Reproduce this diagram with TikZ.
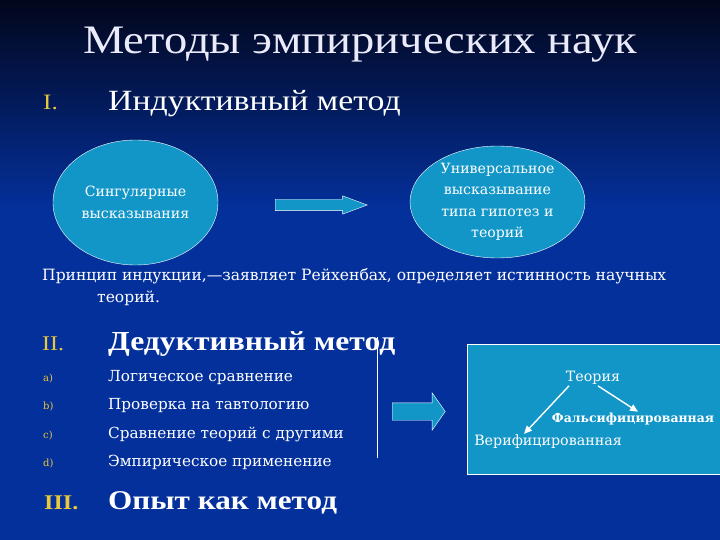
\documentclass[tikz,border=0pt]{standalone}
\usepackage{fontspec}
\setmainfont{DejaVu Serif}
\newfontfamily\headfont[FakeStretch=1.15]{Liberation Serif}
\usetikzlibrary{shapes.geometric, shapes.arrows, arrows.meta}
\definecolor{navy}{RGB}{2,6,28}
\definecolor{royal}{RGB}{4,48,156}
\definecolor{sky}{RGB}{18,150,200}
\definecolor{gold}{RGB}{232,200,60}
\definecolor{pale}{RGB}{234,234,250}
\newcommand{\fs}[1]{\fontsize{#1}{1.2\dimexpr#1pt\relax}\selectfont}

\begin{document}
\begin{tikzpicture}[x=1bp, y=-1bp]
    \tikzstyle{oval} = [ellipse, draw=white, fill=sky, inner sep=0pt, align=center, text=white, font=\fontsize{14.2}{21.5}\selectfont]
    \tikzstyle{fat} = [single arrow, draw=white, fill=sky, inner xsep=0pt, anchor=west]
    \tikzstyle{num} = [anchor=base west, text=gold, inner sep=0pt]
    \tikzstyle{txt} = [anchor=base west, text=white, inner sep=0pt]
    \tikzstyle{item} = [txt, font=\fs{15.3}]
    \tikzstyle{tag} = [num, font=\fs{10}]
    \tikzstyle{leaf} = [text=white, font=\fs{14.3}, inner sep=1pt]
    \tikzstyle{link} = [white, line width=1.4bp, -{Triangle[length=8bp, width=7bp]}]
    \useasboundingbox (0,0) rectangle (720,540);
    \fill[royal] (0,0) rectangle (720,540);
    \shade[top color=navy, bottom color=royal] (0,0) rectangle (720,210);
    \node[anchor=base, text=pale, inner sep=0pt, font=\headfont\fs{40.6}] (title) at (360,54) {Методы эмпирических наук};
    \node[num, font=\headfont\fs{22}] (n1) at (43,110) {I.};
    \node[txt, font=\headfont\fs{29.5}] (ind) at (108,111) {Индуктивный метод};
    \node[oval, minimum width=165bp, minimum height=125bp] (sing) at (135.5,202.5) {Сингулярные\\высказывания};
    \node[oval, minimum width=175bp, minimum height=112bp] (univ) at (497.5,202) {Универсальное\\высказывание\\типа гипотез и\\теорий};
    \node[fat, minimum height=92bp, inner ysep=5.5bp, single arrow head extend=3.5bp, single arrow tip angle=41] (go1) at (275,205) {};
    \node[txt, font=\fs{15.6}] (prin) at (42,281) {Принцип индукции,—заявляет Рейхенбах, определяет истинность научных};
    \node[txt, font=\fs{15.6}] (prin2) at (97,302) {теорий.};
    \node[num, font=\headfont\fs{21}] (n2) at (42,350) {II.};
    \node[txt, font=\headfont\bfseries\fs{27.6}] (ded) at (108,350) {Дедуктивный метод};
    \node[tag] (ta) at (43,381) {a)};
    \node[item] (ia) at (108,381) {Логическое сравнение};
    \node[tag] (tb) at (43,409) {b)};
    \node[item] (ib) at (108,409) {Проверка на тавтологию};
    \node[tag] (tc) at (43,438) {c)};
    \node[item] (ic) at (108,438) {Сравнение теорий с другими};
    \node[tag] (td) at (43,466) {d)};
    \node[item] (id) at (108,466) {Эмпирическое применение};
    \node[num, font=\headfont\bfseries\fs{21}] (n3) at (44,509) {III.};
    \node[txt, font=\headfont\bfseries\fs{27.2}] (exp) at (108,509) {Опыт как метод};
    \draw[white, line width=0.8bp] (377,337) -- (377,458);
    \node[fat, minimum height=53bp, inner ysep=8.5bp, single arrow head extend=10bp, single arrow tip angle=110] (go2) at (392,411.5) {};
    \fill[sky, draw=white, line width=1bp] (467,344) rectangle (760,474);
    \node[leaf] (teor) at (593,378) {Теория};
    \node[leaf, font=\bfseries\fs{12.5}] (fals) at (633,419) {Фальсифицированная};
    \node[leaf] (ver) at (548,442) {Верифицированная};
    \draw[link] ([xshift=-24bp]teor.south) -- ([xshift=-24bp]ver.north);
    \draw[link] ([xshift=5bp]teor.south) -- ([xshift=5bp]fals.north);
\end{tikzpicture}
\end{document}
